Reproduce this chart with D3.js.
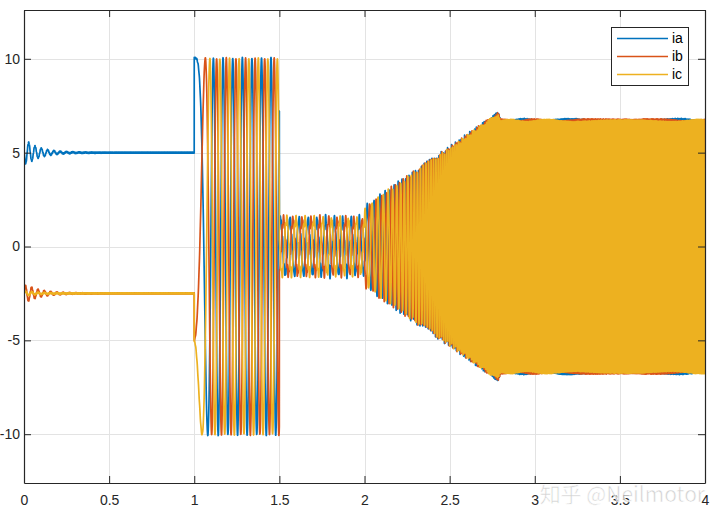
<!DOCTYPE html>
<html><head><meta charset="utf-8">
<script src="https://cdn.jsdelivr.net/npm/d3@7"></script>
<style>body{margin:0;background:#fff}svg{display:block}</style>
</head><body>
<svg id="c" width="720" height="530"></svg>
<script>
// ---- data ----
const xTicks = [0, 0.5, 1, 1.5, 2, 2.5, 3, 3.5, 4];
const xTickLabels = ["0", "0.5", "1", "1.5", "2", "2.5", "3", "3.5", "4"];
const yTicks = [-10, -5, 0, 5, 10];
const yTickLabels = ["-10", "-5", "0", "5", "10"];
const seriesNames = ["ia", "ib", "ic"];
const seriesColors = ["#0072BD", "#D95319", "#EDB120"];
// levels during 0..1 s (A)
const startValue = [5, -2.5, 0];
const dcLevel = [5, -2.5, -2.5];
// start-up ripple (A), its frequency (Hz) and decay (s)
const startRipple = [-0.75, 0.55, 0.12];
const startRippleFreq = 27;
const startRippleDecay = 0.085;
// amplitude envelope after t = 1 s
const envT = [1.0, 1.4999, 1.5, 2.0, 2.004, 2.5, 2.785, 2.8, 4.0];
const envA = [10, 10, 1.5, 1.45, 2.1, 5.15, 7.05, 6.7, 6.7];
// electrical frequency after t = 1 s (Hz)
const freqT = [1.0, 1.11, 1.5, 2.0, 2.3, 2.5, 2.8, 4.0];
const freqF = [0, 17.5, 18, 21, 55, 85, 125, 135];
// harmonic content (fraction of amplitude) per time knot
const harmT = [1.0, 1.4999, 1.5, 2.0, 2.004, 2.8, 4.0];
const harmR = [0.004, 0.004, 0.09, 0.09, 0.04, 0.01, 0.01];

// ---- build samples ----
const interp = (T, V) => d3.scaleLinear().domain(T).range(V).clamp(true);
const envS = interp(envT, envA), freqS = interp(freqT, freqF), harmS = interp(harmT, harmR);
const dt = 0.0002, N = Math.round(4 / dt);
const series = seriesNames.map(() => []);
let theta = 0;
for (let i = 0; i <= N; i++) {
  const t = i * dt;
  for (let k = 0; k < 3; k++) {
    let v;
    if (i === 0) v = startValue[k];
    else if (t < 1 - 1e-9) {
      const e = (1 - Math.exp(-t / 0.005)) * Math.exp(-t / startRippleDecay);
      v = dcLevel[k] + startRipple[k] * e * Math.sin(2 * Math.PI * startRippleFreq * t + (k === 1 ? 0.2 : 0))
          + 0.03 * Math.sin(2 * Math.PI * 190 * t + k * 2.1);
    } else {
      const A = envS(t), h = harmS(t), ph = theta - k * 2 * Math.PI / 3;
      v = A * Math.cos(ph)
        + A * h * Math.cos(-5 * ph + 0.7 + k * 0.4)
        + A * h * 0.9 * Math.cos(2 * Math.PI * 131 * t + k * 2.3)
        + A * h * 0.5 * Math.cos(7 * ph + 1.1);
    }
    series[k].push([t, v]);
  }
  if (t >= 1 - 1e-9) theta += 2 * Math.PI * freqS(t) * dt;
}

// ---- draw ----
const svg = d3.select("#c");
const L = 24, R = 705, T = 10, B = 483;
const x = d3.scaleLinear().domain([0, 4]).range([L, R]);
const y = d3.scaleLinear().domain([-12.6, 12.6]).range([B, T]);

svg.append("defs").append("clipPath").attr("id", "clip")
  .append("rect").attr("x", L).attr("y", T).attr("width", R - L).attr("height", B - T);

const grid = svg.append("g").attr("stroke", "#e3e3e3").attr("stroke-width", 1);
xTicks.forEach(v => grid.append("line").attr("x1", Math.round(x(v)) + 0.5).attr("x2", Math.round(x(v)) + 0.5).attr("y1", T).attr("y2", B));
yTicks.forEach(v => grid.append("line").attr("y1", Math.round(y(v)) + 0.5).attr("y2", Math.round(y(v)) + 0.5).attr("x1", L).attr("x2", R));

const line = d3.line().x(d => x(d[0])).y(d => y(d[1]));
const plot = svg.append("g").attr("clip-path", "url(#clip)");
series.forEach((s, k) => {
  plot.append("path").attr("d", line(s)).attr("fill", "none")
    .attr("stroke", seriesColors[k]).attr("stroke-width", 1.7).attr("stroke-linejoin", "round");
});

// axes (box with inward ticks)
const fontFam = "'Liberation Sans', Arial, Helvetica, sans-serif";
const axB = svg.append("g").attr("transform", `translate(0,${B})`)
  .call(d3.axisBottom(x).tickValues(xTicks).tickFormat((d, i) => xTickLabels[i]).tickSizeInner(-7).tickSizeOuter(0).tickPadding(12));
const axL = svg.append("g").attr("transform", `translate(${L},0)`)
  .call(d3.axisLeft(y).tickValues(yTicks).tickFormat((d, i) => yTickLabels[i]).tickSizeInner(-7).tickSizeOuter(0).tickPadding(4));
const axT = svg.append("g").attr("transform", `translate(0,${T})`)
  .call(d3.axisTop(x).tickValues(xTicks).tickFormat("").tickSizeInner(-7).tickSizeOuter(0));
const axR = svg.append("g").attr("transform", `translate(${R},0)`)
  .call(d3.axisRight(y).tickValues(yTicks).tickFormat("").tickSizeInner(-7).tickSizeOuter(0));
[axB, axL, axT, axR].forEach(a => {
  a.selectAll("path.domain").attr("stroke", "#262626").attr("stroke-width", 1.2);
  a.selectAll(".tick line").attr("stroke", "#262626");
  a.selectAll("text").attr("fill", "#262626").attr("font-family", fontFam).attr("font-size", 14);
});
axL.selectAll("text").attr("x", -4);

// legend
const lg = svg.append("g");
lg.append("rect").attr("x", 611.5).attr("y", 27.5).attr("width", 77).attr("height", 58)
  .attr("fill", "#fff").attr("stroke", "#262626").attr("stroke-width", 1);
seriesNames.forEach((n, k) => {
  const yy = 38.5 + k * 18;
  lg.append("line").attr("x1", 617).attr("x2", 668).attr("y1", yy).attr("y2", yy)
    .attr("stroke", seriesColors[k]).attr("stroke-width", 1.3);
  lg.append("text").attr("x", 672).attr("y", yy).attr("dy", "0.35em").text(n)
    .attr("font-family", fontFam).attr("font-size", 14).attr("fill", "#000");
});

// watermark (as in the reference, it sits over the axis labels)
svg.append("text").attr("x", 705).attr("y", 502).attr("text-anchor", "end")
  .attr("font-family", "'Noto Sans CJK SC', 'Noto Sans', sans-serif").attr("font-size", 21)
  .attr("fill", "#c4c4c4").attr("fill-opacity", 0.75).attr("stroke", "#fff").attr("stroke-width", 0.6)
  .text("知乎 @Neilmotor");
</script>
</body></html>
